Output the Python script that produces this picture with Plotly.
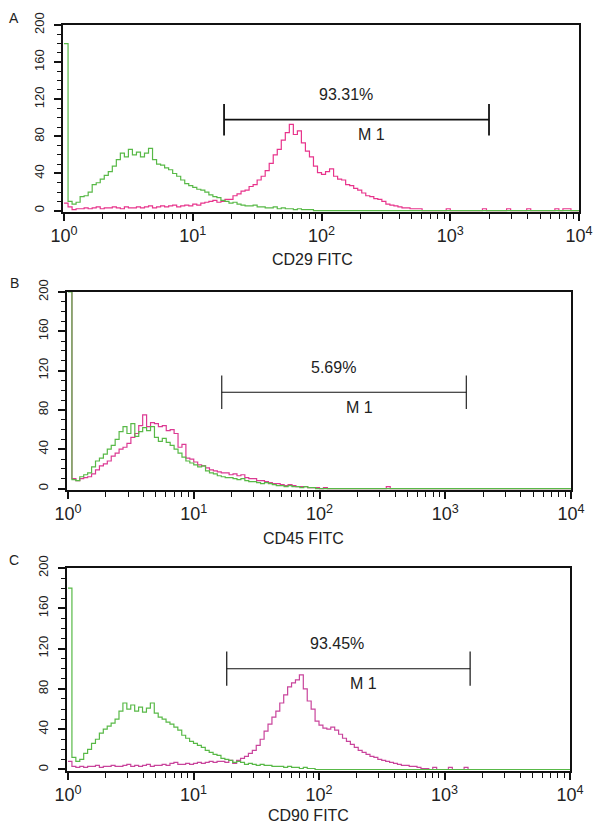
import math
import plotly.graph_objects as go

# 32 channels per decade, 4 decades (channel values 10^0 .. 10^4)
CH_PER_DECADE = 32
channels = [10 ** (k / CH_PER_DECADE) for k in range(4 * CH_PER_DECADE + 1)]

# counts per channel (isotype control = green, antibody = pink)
cd29_control = [
    180, 10, 7, 9, 15, 16, 20, 28, 30, 34, 38, 42, 48, 55, 62, 58,
    66, 60, 63, 58, 62, 67, 55, 50, 49, 46, 44, 40, 37, 33, 29, 27,
    25, 23, 22, 20, 17, 15, 14, 11, 10, 8, 9, 7, 6, 5, 5, 6,
    4, 4, 3, 3, 4, 2, 3, 2, 2, 1, 2, 1, 1, 1, 0, 0,
    0, 0, 0, 0, 0, 0, 0, 0, 0, 0, 0, 0, 0, 0, 0, 0,
    0, 0, 0, 0, 0, 0, 0, 0, 0, 0, 0, 0, 0, 0, 0, 0,
    0, 0, 0, 0, 0, 0, 0, 0, 0, 0, 0, 0, 0, 0, 0, 0,
    0, 0, 0, 0, 0, 0, 0, 0, 0, 0, 0, 0, 0, 0, 0, 0,
    0,
]
cd29_stained = [
    8, 4, 1, 2, 2, 3, 2, 3, 4, 2, 3, 3, 4, 3, 2, 4,
    3, 3, 4, 3, 4, 5, 3, 4, 5, 4, 5, 6, 4, 5, 6, 5,
    7, 6, 8, 9, 10, 11, 9, 10, 12, 12, 16, 18, 21, 22, 26, 28,
    33, 37, 43, 51, 60, 66, 76, 84, 93, 82, 86, 73, 64, 58, 48, 41,
    39, 42, 45, 37, 34, 33, 28, 27, 24, 22, 19, 16, 15, 13, 12, 10,
    7, 6, 5, 4, 3, 3, 2, 2, 2, 0, 0, 0, 0, 0, 0, 2,
    0, 0, 0, 0, 0, 0, 0, 0, 2, 0, 0, 0, 0, 0, 2, 0,
    0, 0, 0, 2, 0, 0, 0, 0, 0, 0, 2, 0, 2, 2, 0, 0,
    0,
]
cd45_control = [
    200, 9, 8, 12, 14, 16, 22, 28, 31, 35, 40, 44, 50, 58, 63, 56,
    66, 53, 58, 62, 59, 63, 52, 48, 51, 47, 44, 40, 36, 32, 28, 26,
    24, 22, 23, 18, 16, 15, 13, 12, 11, 11, 10, 9, 10, 8, 7, 7,
    6, 5, 6, 5, 4, 3, 3, 2, 3, 2, 2, 1, 2, 1, 1, 0,
    0, 0, 0, 0, 0, 0, 0, 0, 0, 0, 0, 0, 0, 0, 0, 0,
    0, 0, 0, 0, 0, 0, 0, 0, 0, 0, 0, 0, 0, 0, 0, 0,
    0, 0, 0, 0, 0, 0, 0, 0, 0, 0, 0, 0, 0, 0, 0, 0,
    0, 0, 0, 0, 0, 0, 0, 0, 0, 0, 0, 0, 0, 0, 0, 0,
    0,
]
cd45_stained = [
    205, 10, 8, 10, 11, 12, 15, 19, 23, 25, 28, 33, 36, 40, 42, 46,
    52, 56, 64, 75, 63, 67, 66, 63, 64, 59, 60, 56, 42, 45, 31, 30,
    27, 24, 23, 21, 19, 18, 17, 16, 16, 14, 15, 13, 14, 11, 10, 10,
    8, 8, 7, 6, 5, 5, 4, 3, 4, 3, 2, 2, 2, 1, 1, 1,
    0, 1, 0, 0, 0, 0, 0, 0, 0, 0, 0, 0, 0, 0, 0, 0,
    0, 2, 0, 0, 0, 0, 0, 0, 0, 0, 0, 0, 0, 0, 0, 0,
    0, 0, 0, 0, 0, 0, 0, 0, 0, 0, 0, 0, 0, 0, 0, 0,
    0, 0, 0, 0, 0, 0, 0, 0, 0, 0, 0, 0, 0, 0, 0, 0,
    0,
]
cd90_control = [
    180, 12, 8, 10, 16, 20, 26, 30, 36, 40, 43, 46, 50, 58, 66, 60,
    64, 58, 62, 57, 61, 66, 56, 52, 50, 47, 45, 42, 39, 34, 31, 28,
    26, 24, 22, 19, 17, 15, 14, 11, 10, 9, 7, 8, 7, 5, 6, 5,
    4, 5, 4, 4, 3, 3, 3, 2, 3, 2, 2, 1, 2, 1, 1, 0,
    0, 0, 0, 0, 0, 0, 0, 0, 0, 0, 0, 0, 0, 0, 0, 0,
    0, 0, 0, 0, 0, 0, 0, 0, 0, 0, 0, 0, 0, 0, 0, 0,
    0, 0, 0, 0, 0, 0, 0, 0, 0, 0, 0, 0, 0, 0, 0, 0,
    0, 0, 0, 0, 0, 0, 0, 0, 0, 0, 0, 0, 0, 0, 0, 0,
    0,
]
cd90_stained = [
    8, 3, 2, 3, 2, 3, 3, 4, 2, 3, 3, 4, 3, 3, 4, 5,
    3, 4, 3, 4, 5, 3, 4, 4, 5, 4, 6, 7, 5, 5, 6, 5,
    6, 7, 6, 7, 8, 7, 8, 8, 7, 9, 6, 9, 11, 13, 16, 19,
    24, 30, 38, 45, 52, 58, 66, 74, 82, 86, 89, 94, 80, 68, 60, 48,
    44, 41, 40, 42, 39, 35, 31, 28, 25, 22, 19, 17, 15, 13, 12, 10,
    9, 8, 7, 6, 5, 4, 4, 3, 3, 2, 1, 1, 0, 2, 0, 0,
    0, 2, 0, 0, 0, 2, 0, 0, 0, 0, 0, 0, 0, 0, 0, 0,
    0, 0, 0, 0, 0, 0, 0, 0, 0, 0, 0, 0, 0, 0, 0, 0,
    0,
]

panel_letters = ["A", "B", "C"]
markers = ["CD29 FITC", "CD45 FITC", "CD90 FITC"]
controls = [cd29_control, cd45_control, cd90_control]
stained = [cd29_stained, cd45_stained, cd90_stained]
m1_percent = ["93.31%", "5.69%", "93.45%"]
gate_lo = [17.5, 16.7, 18.4]
gate_hi = [2000, 1470, 1600]
gate_level = [98, 98, 100]

decade_vals = [1, 10, 100, 1000, 10000]
decade_text = ["10<sup>0</sup>", "10<sup>1</sup>", "10<sup>2</sup>", "10<sup>3</sup>", "10<sup>4</sup>"]
count_ticks = [0, 40, 80, 120, 160, 200]

# minor tick positions: 2..9 within each decade, every 10 counts
x_minor = [m * d for d in decade_vals[:-1] for m in range(2, 10)]
y_minor = list(range(0, 201, 10))

# layout in pixels (left, right, top, bottom) of each plot frame
W, H = 600, 826
frames = [(63, 579, 25, 212), (67, 571, 292, 490), (67, 570, 568, 771)]
title_pos = [(313, 259), (303, 538), (308, 815)]
letter_pos = [(14, 18), (14, 283), (14, 560)]
pink_colors = ["#e8348c", "#dc3a93", "#c9449c"]
green = "#58b947"
gate_width = [1.8, 1.1, 1.2]
FONT = "Liberation Sans, Arial, Helvetica, sans-serif"

fig = go.Figure()
annotations = []

for i in range(3):
    ax = "" if i == 0 else str(i + 1)
    xref, yref = "x" + ax, "y" + ax
    left, right, top, bottom = frames[i]

    fig.add_trace(go.Scatter(
        x=channels, y=stained[i], mode="lines", line_shape="hv",
        line=dict(color=pink_colors[i], width=1.2),
        xaxis=xref, yaxis=yref, showlegend=False,
    ))
    fig.add_trace(go.Scatter(
        x=channels, y=controls[i], mode="lines", line_shape="hv",
        line=dict(color=green, width=1.2),
        xaxis=xref, yaxis=yref, showlegend=False,
    ))

    # M1 gate marker
    lo, hi, lvl = gate_lo[i], gate_hi[i], gate_level[i]
    half = 17
    fig.add_trace(go.Scatter(
        x=[lo, lo, None, lo, hi, None, hi, hi],
        y=[lvl - half, lvl + half, None, lvl, lvl, None, lvl - half, lvl + half],
        mode="lines", line=dict(color="#111", width=gate_width[i]),
        xaxis=xref, yaxis=yref, showlegend=False, hoverinfo="skip",
    ))
    mid = (math.log10(lo) + math.log10(hi)) / 2
    annotations.append(dict(
        x=mid, y=lvl, xref=xref, yref=yref, text=m1_percent[i], showarrow=False,
        xanchor="center", yanchor="middle", xshift=-11, yshift=25,
        font=dict(size=16, color="#222", family=FONT),
    ))
    annotations.append(dict(
        x=mid, y=lvl, xref=xref, yref=yref, text="M 1", showarrow=False,
        xanchor="center", yanchor="middle", xshift=15, yshift=-15,
        font=dict(size=16, color="#222", family=FONT),
    ))

    tx, ty = title_pos[i]
    annotations.append(dict(
        x=tx / W, y=1 - ty / H, xref="paper", yref="paper", text=markers[i],
        showarrow=False, xanchor="center", yanchor="middle",
        font=dict(size=16, color="#222", family=FONT),
    ))
    lx, ly = letter_pos[i]
    annotations.append(dict(
        x=lx / W, y=1 - ly / H, xref="paper", yref="paper", text=panel_letters[i],
        showarrow=False, xanchor="center", yanchor="middle",
        font=dict(size=14, color="#222", family=FONT),
    ))

    fig.update_layout({
        "xaxis" + ax: dict(
            type="log", range=[-0.008, 4], domain=[left / W, right / W], anchor=yref,
            tickmode="array", tickvals=decade_vals, ticktext=decade_text,
            ticks="outside", ticklen=7, tickwidth=1.5, tickcolor="#111",
            minor=dict(tickmode="array", tickvals=x_minor, ticks="outside",
                       ticklen=5, tickwidth=1.3, tickcolor="#111"),
            showline=True, mirror=True, linecolor="#111", linewidth=1.6,
            showgrid=False, zeroline=False, automargin=False,
            tickfont=dict(size=18, color="#222", family=FONT),
        ),
        "yaxis" + ax: dict(
            range=[-1.5, 200], domain=[1 - bottom / H, 1 - top / H], anchor=xref,
            tickmode="array", tickvals=count_ticks, tickangle=-90,
            ticks="outside", ticklen=7, tickwidth=1.5, tickcolor="#111",
            minor=dict(tickmode="array", tickvals=y_minor, ticks="outside",
                       ticklen=4, tickwidth=1.2, tickcolor="#111"),
            showline=True, mirror=True, linecolor="#111", linewidth=1.6,
            showgrid=False, zeroline=False, automargin=False, ticklabelstandoff=5,
            tickfont=dict(size=13, color="#222", family=FONT),
        ),
    })

fig.update_layout(
    width=W, height=H,
    margin=dict(l=0, r=0, t=0, b=0, autoexpand=False),
    paper_bgcolor="white", plot_bgcolor="white",
    font=dict(family=FONT),
    annotations=annotations,
)

# the page's default body margin would push the 600px figure off the window
fig.write_html(
    "out.html",
    config={"displayModeBar": False},
    post_script="document.body.style.margin = '0';",
)
